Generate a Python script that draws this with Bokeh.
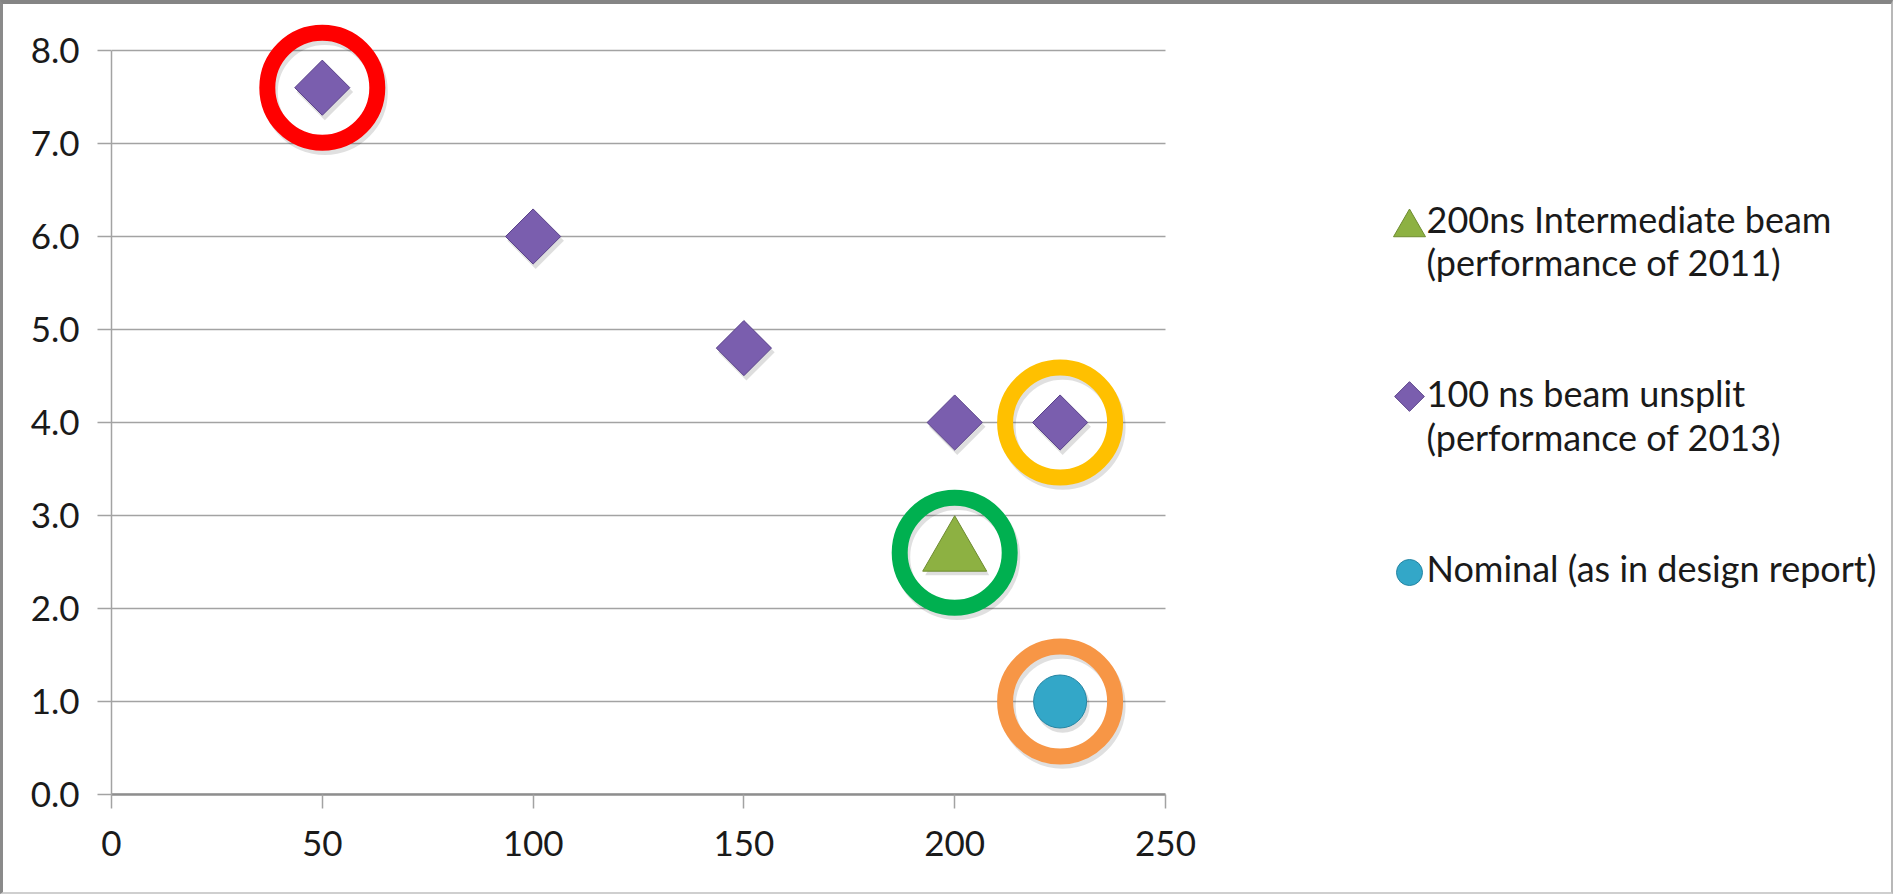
import numpy as np
from bokeh.plotting import figure
from bokeh.models import Range1d, FixedTicker, NumeralTickFormatter
from bokeh.core.properties import value
from bokeh.transform import dodge
from bokeh.embed import file_html
from bokeh.resources import INLINE

# Series values
unsplit_x = [50, 100, 150, 200, 225]
unsplit_y = [7.6, 6.0, 4.8, 4.0, 4.0]
inter_x = [200]
inter_y = [2.6]
nominal_x = [225]
nominal_y = [1.0]

# Highlight rings around selected points
ring_x = [50, 225, 200, 225]
ring_y = [7.6, 4.0, 2.6, 1.0]
ring_colors = ["#ff0000", "#ffc000", "#00b050", "#f79646"]

x_ticks = [0, 50, 100, 150, 200, 250]
y_ticks = [0, 1, 2, 3, 4, 5, 6, 7, 8]

legend_lines = [
    ["200ns Intermediate beam", "(performance of 2011)"],
    ["100 ns beam unsplit", "(performance of 2013)"],
    ["Nominal (as in design report)"],
]

FONT = "Lato"
GRID = "#a3a3a3"
TEXT = "#1a1a1a"

# Plot geometry (pixels)
XPX = 1054 / 250          # pixels per x unit over the 0..250 axis
YPX = 93                  # pixels per y unit
FRAME_W, FRAME_H = 1780, 777
X_MAX = FRAME_W / XPX     # frame runs on to the right so the key shares it
Y_MAX = FRAME_H / YPX     # a little head-room above 8.0 for the rings

p = figure(
    frame_width=FRAME_W, frame_height=FRAME_H,
    min_border_left=108, min_border_right=0,
    min_border_top=13, min_border_bottom=98,
    x_range=Range1d(0, X_MAX), y_range=Range1d(0, Y_MAX),
    output_backend="svg", toolbar_location=None,
    background_fill_color="white", border_fill_color="white",
)
p.styles = {
    "border-top": "4px solid #858585",
    "border-left": "3px solid #8a8a8a",
    "border-right": "2px solid #b8b8b8",
    "border-bottom": "2px solid #cfcfcf",
}
p.outline_line_color = None
p.xgrid.visible = False
p.ygrid.visible = False

# Horizontal gridlines across the 0..250 span only
p.segment(x0=0, x1=250, y0=y_ticks, y1=y_ticks, line_color=GRID, line_width=1.5)

p.xaxis.ticker = FixedTicker(ticks=x_ticks)
p.yaxis.ticker = FixedTicker(ticks=y_ticks)
p.yaxis.formatter = NumeralTickFormatter(format="0.0")
p.xaxis.bounds = (0, 250)
p.yaxis.bounds = (0, 8)
for ax in (p.xaxis, p.yaxis):
    ax.major_tick_in = 0
    ax.major_tick_out = 14
    ax.minor_tick_line_color = None
    ax.major_tick_line_color = GRID
    ax.major_tick_line_width = 1.5
    ax.axis_line_color = GRID
    ax.major_label_text_font = FONT
    ax.major_label_text_font_size = "35px"
    ax.major_label_text_color = TEXT
p.xaxis.axis_line_width = 2.5
p.xaxis.axis_line_color = "#8e8e8e"
p.yaxis.axis_line_width = 1.5
p.xaxis.major_label_standoff = 22
p.yaxis.major_label_standoff = 18

TRI = dict(marker="triangle", fill_color="#8db142", line_color="#6e8c30", line_width=1)
DIA = dict(marker="square", angle=np.pi / 4, fill_color="#7a5eae", line_color="#5a428a",
           line_width=1)
CIR = dict(marker="circle", fill_color="#33a7c8", line_color="#2585a3", line_width=1)

# Soft drop shadows under the markers and rings
SHX, SHY = 0.6, -0.045
shadow = dict(fill_color="black", fill_alpha=0.13, line_alpha=0)
p.scatter(x=dodge("x", SHX), y=dodge("y", SHY), source={"x": inter_x, "y": inter_y},
          marker="triangle", size=64, **shadow)
p.scatter(x=dodge("x", SHX), y=dodge("y", SHY), source={"x": unsplit_x, "y": unsplit_y},
          marker="square", angle=np.pi / 4, size=40, **shadow)
p.scatter(x=dodge("x", SHX), y=dodge("y", SHY), source={"x": nominal_x, "y": nominal_y},
          marker="circle", size=54, **shadow)
p.scatter(x=dodge("x", SHX), y=dodge("y", SHY), source={"x": ring_x, "y": ring_y},
          marker="circle", size=110, fill_alpha=0, line_color="black", line_alpha=0.12,
          line_width=16)

# Data markers
p.scatter(inter_x, inter_y, size=64, **TRI)
p.scatter(unsplit_x, unsplit_y, size=39, **DIA)
p.scatter(nominal_x, nominal_y, size=53, **CIR)

# Highlight rings
p.scatter(ring_x, ring_y, marker="circle", size=110, fill_alpha=0,
          line_color=ring_colors, line_width=16)

# Key, laid out in pixels from the frame's left/bottom edges
def fx(px):
    return px / XPX


def fy(px):
    return px / YPX


KEY_MARK_X = 1298          # marker centre
KEY_TEXT_X = 1315          # text start
KEY_BASE = [[576, 533], [402, 358], [227]]   # text baselines above the x axis
KEY_MARK_Y = [567, 398, 222]                 # marker centres above the x axis

p.scatter([fx(KEY_MARK_X)], [fy(KEY_MARK_Y[0])], size=32, **TRI)
p.scatter([fx(KEY_MARK_X)], [fy(KEY_MARK_Y[1])], size=21, **DIA)
p.scatter([fx(KEY_MARK_X)], [fy(KEY_MARK_Y[2])], size=26, **CIR)

key_x, key_y, key_text = [], [], []
for lines, bases in zip(legend_lines, KEY_BASE):
    for line, base in zip(lines, bases):
        key_x.append(fx(KEY_TEXT_X))
        key_y.append(fy(base))
        key_text.append(line)
p.text(x=key_x, y=key_y, text=key_text, text_font=value(FONT), text_font_size="36px",
       text_color=TEXT, text_align="left", text_baseline="alphabetic")

open("out.html", "w").write(file_html(p, INLINE))
